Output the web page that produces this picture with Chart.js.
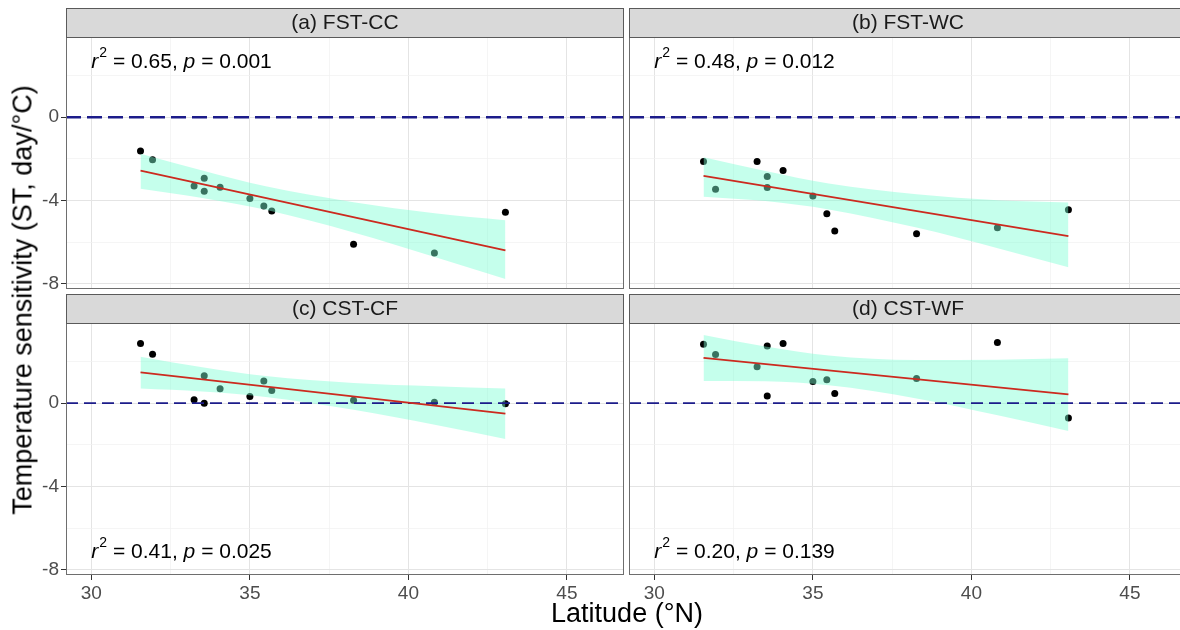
<!DOCTYPE html>
<html lang="en">
<head>
  <meta charset="UTF-8">
  <title>Temperature sensitivity vs latitude</title>
  <script src="https://cdn.jsdelivr.net/npm/chart.js"></script>
  <style>
    body {
      margin: 0;
      background: #fff;
      font-family: "Liberation Sans", Arial, sans-serif;
    }

    #wrap {
      position: relative;
      width: 1180px;
      height: 630px;
      overflow: hidden;
      background: #fff;
    }

    #wrap canvas {
      position: absolute;
      left: 0;
      top: 0;
    }

    .axis-title {
      position: absolute;
      font-size: 27px;
      color: #000;
      white-space: nowrap;
      transform: translate(-50%, -50%);
    }

    #ytitle {
      left: 23px;
      top: 300px;
      transform: translate(-50%, -50%) rotate(-90deg);
    }

    #xtitle {
      left: 627px;
      top: 613px;
    }
  </style>
</head>
<body>
  <div id="wrap">
    <canvas id="panel0" width="1195" height="630"></canvas>
    <canvas id="panel1" width="1195" height="630"></canvas>
    <canvas id="panel2" width="1195" height="630"></canvas>
    <canvas id="panel3" width="1195" height="630"></canvas>
    <div class="axis-title" id="ytitle">Temperature sensitivity (ST, day/°C)</div>
    <div class="axis-title" id="xtitle">Latitude (°N)</div>
  </div>

  <script>
    // --- data -------------------------------------------------------------
    const latitude = [31.55, 31.93, 33.24, 33.56, 33.56, 34.06, 35.00, 35.44, 35.69, 38.27, 40.82, 43.06];

    const stFstCC = [-1.62, -2.04, -3.30, -2.93, -3.56, -3.36, -3.91, -4.27, -4.51, -6.10, -6.52, -4.56];
    const stFstWC = [-2.13, -3.46, -2.13, -2.85, -3.38, -2.56, -3.78, -4.64, -5.47, -5.60, -5.31, -4.44];
    const stCstCF = [2.86, 2.35, 0.17, 1.32, 0.00, 0.69, 0.32, 1.07, 0.61, 0.14, 0.05, -0.03];
    const stCstWF = [2.83, 2.34, 1.75, 2.74, 0.35, 2.87, 1.04, 1.12, 0.46, 1.18, 2.91, -0.71];

    // fitted line ends
    const fitLat = [31.55, 43.06];
    const fitFstCC = [-2.57, -6.40];
    const fitFstWC = [-2.82, -5.71];
    const fitCstCF = [1.48, -0.50];
    const fitCstWF = [2.18, 0.42];

    // 95% confidence band edges
    const bandLat = [31.55, 33.5, 35.5, 38.27, 40.83, 43.06];
    const bandFstCCHi = [-1.76, -2.56, -3.32, -4.08, -4.61, -4.95];
    const bandFstCCLo = [-3.44, -3.88, -4.45, -5.54, -6.71, -7.77];
    const bandFstWCHi = [-1.92, -2.59, -3.19, -3.70, -3.99, -4.10];
    const bandFstWCLo = [-3.82, -4.03, -4.43, -5.30, -6.29, -7.21];
    const bandCstCFHi = [2.23, 1.72, 1.30, 0.97, 0.81, 0.70];
    const bandCstCFLo = [0.70, 0.56, 0.30, -0.32, -1.04, -1.72];
    const bandCstWFHi = [3.27, 2.72, 2.29, 2.07, 2.09, 2.16];
    const bandCstWFLo = [1.06, 1.05, 0.86, 0.23, -0.58, -1.34];

    const panelTitles = ['(a) FST-CC', '(b) FST-WC', '(c) CST-CF', '(d) CST-WF'];
    const r2Values = ['0.65', '0.48', '0.41', '0.20'];
    const pValues = ['0.001', '0.012', '0.025', '0.139'];

    const xMajor = [30, 35, 40, 45];
    const xMinor = [32.5, 37.5, 42.5];
    const yMajor = [-8, -4, 0];
    const yMinor = [-6, -2, 2];
    const refValue = 0;

    // --- layout -------------------------------------------------------------
    const X_MIN = 29.2, X_MAX = 46.8;
    const Y_MIN = -8.25, Y_MAX = 3.85;
    const CANVAS_W = 1195, CANVAS_H = 630;
    const STRIP_H = 29;
    const Y_AXIS_W = 50, X_AXIS_H = 40;
    const FONT = '"Liberation Sans", Arial, sans-serif';

    // plot area of each facet: left, top, right, bottom
    const boxes = [
      [66, 37, 624, 289],
      [629, 37, 1187, 289],
      [66, 323, 624, 575],
      [629, 323, 1187, 575]
    ];
    const statY = [2.65, 2.65, -7.15, -7.15];     // label anchor (data units)
    const refWidth = [2.6, 2.6, 1.8, 1.8];
    const refDash = [[15, 6], [15, 6], [12, 6], [12, 6]];

    const series = [
      { st: stFstCC, fit: fitFstCC, hi: bandFstCCHi, lo: bandFstCCLo },
      { st: stFstWC, fit: fitFstWC, hi: bandFstWCHi, lo: bandFstWCLo },
      { st: stCstCF, fit: fitCstCF, hi: bandCstCFHi, lo: bandCstCFLo },
      { st: stCstWF, fit: fitCstWF, hi: bandCstWFHi, lo: bandCstWFLo }
    ];

    const toPoints = (xs, ys) => xs.map((x, i) => ({ x: x, y: ys[i] }));

    // strip, panel border, dashed zero line and r²/p label
    const facetDecor = {
      id: 'facetDecor',
      beforeDatasetDraw(chart, args, opts) {
        if (chart.data.datasets[args.index].label !== 'fit') return;
        const ctx = chart.ctx;
        const area = chart.chartArea;
        const y = chart.scales.y.getPixelForValue(refValue);
        ctx.save();
        ctx.strokeStyle = '#1c1c8a';
        ctx.lineWidth = opts.refWidth;
        ctx.setLineDash(opts.refDash);
        ctx.beginPath();
        ctx.moveTo(area.left, y);
        ctx.lineTo(area.right, y);
        ctx.stroke();
        ctx.restore();
      },
      afterDraw(chart, args, opts) {
        const ctx = chart.ctx;
        const a = chart.chartArea;
        ctx.save();
        // panel border
        ctx.strokeStyle = '#6e6e6e';
        ctx.lineWidth = 1;
        ctx.strokeRect(a.left + 0.5, a.top + 0.5, a.right - a.left - 1, a.bottom - a.top - 1);
        // strip
        ctx.fillStyle = '#d9d9d9';
        ctx.fillRect(a.left, a.top - STRIP_H, a.right - a.left, STRIP_H);
        ctx.strokeStyle = '#5a5a5a';
        ctx.strokeRect(a.left + 0.5, a.top - STRIP_H + 0.5, a.right - a.left - 1, STRIP_H);
        ctx.fillStyle = '#1a1a1a';
        ctx.font = '21px ' + FONT;
        ctx.textAlign = 'center';
        ctx.textBaseline = 'middle';
        ctx.fillText(opts.title, (a.left + a.right) / 2, a.top - STRIP_H / 2 + 1);

        // r² and p text
        const size = 21;
        let x = chart.scales.x.getPixelForValue(xMajor[0]);
        const y = chart.scales.y.getPixelForValue(opts.statY);
        ctx.textAlign = 'left';
        ctx.fillStyle = '#000';
        const put = (text, font, dy) => {
          ctx.font = font;
          ctx.fillText(text, x, y + (dy || 0));
          x += ctx.measureText(text).width;
        };
        put('r', 'italic ' + size + 'px ' + FONT);
        x += 1;
        put('2', '14px ' + FONT, -9);
        put(' = ' + opts.r2 + ', ', size + 'px ' + FONT);
        put('p', 'italic ' + size + 'px ' + FONT);
        put(' = ' + opts.p, size + 'px ' + FONT);
        ctx.restore();
      }
    };

    function gridColor(major) {
      return ctx => (ctx.tick && major.includes(ctx.tick.value)) ? '#e4e4e4' : '#f0f0f0';
    }

    function gridWidth(major) {
      return ctx => (ctx.tick && major.includes(ctx.tick.value)) ? 1 : 0.7;
    }

    function tickMarkColor(major) {
      return ctx => (ctx.tick && major.includes(ctx.tick.value)) ? '#333' : 'rgba(0,0,0,0)';
    }

    function buildPanel(i) {
      const s = series[i];
      const [left, top, right, bottom] = boxes[i];
      const showX = i >= 2;
      const showY = i % 2 === 0;
      const yAxisW = showY ? Y_AXIS_W : 0;
      const xAxisH = showX ? X_AXIS_H : 0;

      const ctx = document.getElementById('panel' + i).getContext('2d');
      new Chart(ctx, {
        type: 'scatter',
        data: {
          datasets: [
            {
              label: 'sites',
              data: toPoints(latitude, s.st),
              backgroundColor: '#000',
              borderWidth: 0,
              pointRadius: 3.5,
              order: 4
            },
            {
              label: 'upper',
              type: 'line',
              data: toPoints(bandLat, s.hi),
              borderColor: 'rgba(0,0,0,0)',
              borderWidth: 0,
              pointRadius: 0,
              cubicInterpolationMode: 'monotone',
              backgroundColor: 'rgba(127, 255, 212, 0.45)',
              fill: '+1',
              order: 3
            },
            {
              label: 'lower',
              type: 'line',
              data: toPoints(bandLat, s.lo),
              borderColor: 'rgba(0,0,0,0)',
              borderWidth: 0,
              pointRadius: 0,
              cubicInterpolationMode: 'monotone',
              fill: false,
              order: 3
            },
            {
              label: 'fit',
              type: 'line',
              data: toPoints(fitLat, s.fit),
              borderColor: '#cc2a1f',
              borderWidth: 1.8,
              pointRadius: 0,
              fill: false,
              order: 1
            }
          ]
        },
        options: {
          responsive: false,
          animation: false,
          events: [],
          layout: {
            padding: {
              left: left - yAxisW,
              top: top,
              right: CANVAS_W - right,
              bottom: CANVAS_H - bottom - xAxisH
            }
          },
          plugins: {
            legend: { display: false },
            tooltip: { enabled: false },
            facetDecor: {
              title: panelTitles[i],
              r2: r2Values[i],
              p: pValues[i],
              statY: statY[i],
              refWidth: refWidth[i],
              refDash: refDash[i]
            }
          },
          scales: {
            x: {
              type: 'linear',
              position: 'bottom',
              min: X_MIN,
              max: X_MAX,
              afterBuildTicks: axis => {
                axis.ticks = xMajor.concat(xMinor).map(v => ({ value: v }));
              },
              afterFit: axis => {
                axis.height = xAxisH;
                axis.paddingLeft = 0;
                axis.paddingRight = 0;
              },
              border: { display: false },
              grid: {
                color: gridColor(xMajor),
                lineWidth: gridWidth(xMajor),
                drawTicks: showX,
                tickLength: 5,
                tickColor: tickMarkColor(xMajor)
              },
              ticks: {
                display: showX,
                autoSkip: false,
                maxRotation: 0,
                padding: 2,
                color: '#4d4d4d',
                font: { family: FONT, size: 19 },
                callback: v => xMajor.includes(v) ? String(v) : ''
              }
            },
            y: {
              type: 'linear',
              position: 'left',
              min: Y_MIN,
              max: Y_MAX,
              afterBuildTicks: axis => {
                axis.ticks = yMajor.concat(yMinor).map(v => ({ value: v }));
              },
              afterFit: axis => {
                axis.width = yAxisW;
                axis.paddingTop = 0;
                axis.paddingBottom = 0;
              },
              border: { display: false },
              grid: {
                color: gridColor(yMajor),
                lineWidth: gridWidth(yMajor),
                drawTicks: showY,
                tickLength: 5,
                tickColor: tickMarkColor(yMajor)
              },
              ticks: {
                display: showY,
                autoSkip: false,
                padding: 2,
                color: '#4d4d4d',
                font: { family: FONT, size: 19 },
                callback: v => yMajor.includes(v) ? String(v) : ''
              }
            }
          }
        },
        plugins: [facetDecor]
      });
    }

    [0, 1, 2, 3].forEach(buildPanel);
  </script>
</body>
</html>
